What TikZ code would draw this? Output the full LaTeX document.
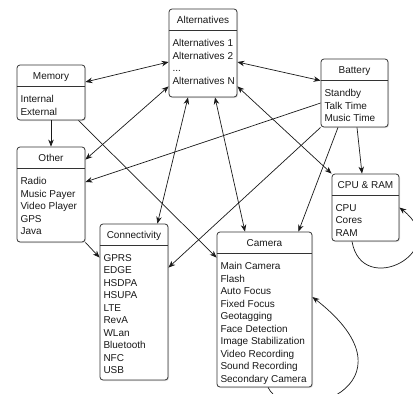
\documentclass[tikz,border=0pt]{standalone}
\usepackage{fontspec}
\setmainfont{Liberation Sans}
\usetikzlibrary{arrows.meta,shadows}
\begin{document}
\begin{tikzpicture}[x=1pt,y=-1pt,
  box/.style={draw=black!80, line width=0.8pt, rounded corners=3pt, fill=white,
    drop shadow={opacity=0.25, shadow xshift=1pt, shadow yshift=-1pt}, inner sep=0pt},
  sepline/.style={draw=black!80, line width=0.8pt},
  ttl/.style={font=\fontsize{10}{12}\selectfont, inner sep=0pt, anchor=base, text=black!90},
  items/.style={font=\fontsize{10}{12.5}\selectfont, align=left, inner sep=0pt, anchor=north west, text=black!90},
  conn/.style={line width=0.7pt, draw=black!90},
  onearr/.style={conn, -{Stealth[length=7pt,width=5.5pt]}},
  twoarr/.style={conn, {Stealth[length=7pt,width=5.5pt]}-{Stealth[length=7pt,width=5.5pt]}},
]
\useasboundingbox (0,0) rectangle (413,394);
\clip (0,0) rectangle (413,394);

% boxes
\node[box, minimum width=68pt, minimum height=88pt]  (alt) at (203,53) {};
\node[box, minimum width=68pt, minimum height=55pt]  (mem) at (51,92.5) {};
\node[box, minimum width=68pt, minimum height=95pt]  (oth) at (51,194.5) {};
\node[box, minimum width=67pt, minimum height=68pt]  (bat) at (354.5,93) {};
\node[box, minimum width=67pt, minimum height=67pt]  (cpu) at (365.5,207.5) {};
\node[box, minimum width=68pt, minimum height=156pt] (con) at (134,302) {};
\node[box, minimum width=95pt, minimum height=155pt] (cam) at (264.5,309.5) {};

% header separators
\foreach \b in {alt,mem,oth,bat,cpu,con,cam}{
  \draw[sepline] ([yshift=-22pt]\b.north west) -- ([yshift=-22pt]\b.north east);
}

% titles
\node[ttl] (altT) at ([yshift=-15.1pt]alt.north) {Alternatives};
\node[ttl] (memT) at ([yshift=-15.1pt]mem.north) {Memory};
\node[ttl] (othT) at ([yshift=-15.1pt]oth.north) {Other};
\node[ttl] (batT) at ([yshift=-15.1pt]bat.north) {Battery};
\node[ttl] (cpuT) at ([yshift=-15.1pt]cpu.north) {CPU \& RAM};
\node[ttl] (conT) at ([yshift=-15.1pt]con.north) {Connectivity};
\node[ttl] (camT) at ([yshift=-15.1pt]cam.north) {Camera};

% item lists
\node[items] (altL) at ([xshift=3.7pt,yshift=-30.6pt]alt.north west)
  {Alternatives 1\\Alternatives 2\\...\\Alternatives N};
\node[items] (memL) at ([xshift=3.7pt,yshift=-30.6pt]mem.north west)
  {Internal\\External};
\node[items] (othL) at ([xshift=3.7pt,yshift=-30.6pt]oth.north west)
  {Radio\\Music Payer\\Video Player\\GPS\\Java};
\node[items] (batL) at ([xshift=3.7pt,yshift=-30.6pt]bat.north west)
  {Standby\\Talk Time\\Music Time};
\node[items] (cpuL) at ([xshift=3.7pt,yshift=-30.6pt]cpu.north west)
  {CPU\\Cores\\RAM};
\node[items] (conL) at ([xshift=3.7pt,yshift=-30.6pt]con.north west)
  {GPRS\\EDGE\\HSDPA\\HSUPA\\LTE\\RevA\\WLan\\Bluetooth\\NFC\\USB};
\node[items] (camL) at ([xshift=3.7pt,yshift=-30.6pt]cam.north west)
  {Main Camera\\Flash\\Auto Focus\\Fixed Focus\\Geotagging\\Face Detection\\Image Stabilization\\Video Recording\\Sound Recording\\Secondary Camera};

% connectors
\draw[twoarr] ([yshift=10.5pt]mem.east) -- ([yshift=-9pt]alt.west);
\draw[twoarr] ([yshift=-13pt]oth.north east) -- ([yshift=11pt]alt.south west);
\draw[onearr] (mem.south) -- (oth.north);
\draw[onearr] ([xshift=-7pt]mem.south east) -- ([yshift=-26pt]cam.north west);
\draw[onearr] ([yshift=-10pt]bat.west) -- ([yshift=12.5pt]oth.east);
\draw[twoarr] ([yshift=-9pt]alt.east) -- ([yshift=-22pt]bat.north west);
\draw[twoarr] ([yshift=11pt]alt.south east) -- (cpu.north west);
\draw[onearr] ([xshift=2.5pt]bat.south) -- ([xshift=-3.5pt]cpu.north);
\draw[onearr] (bat.south west) -- ([yshift=-44pt]con.north east);
\draw[onearr] ([xshift=-16.5pt]bat.south) -- ([xshift=-14pt]cam.north east);
\draw[twoarr] ([xshift=-15pt]alt.south) -- ([xshift=-11pt]con.north east);
\draw[twoarr] ([xshift=12pt]alt.south) -- ([xshift=-19.5pt]cam.north);
\draw[onearr] (oth.south east) -- ([yshift=-34pt]con.north west);

% self loops
\draw[onearr] ([xshift=-13.5pt]cpu.south) .. controls +(10,58) and +(55,43) .. (cpu.east);
\draw[onearr] ([xshift=3.5pt]cam.south) .. controls +(22,43) and +(113,88) .. ([yshift=12.5pt]cam.east);
\end{tikzpicture}
\end{document}
